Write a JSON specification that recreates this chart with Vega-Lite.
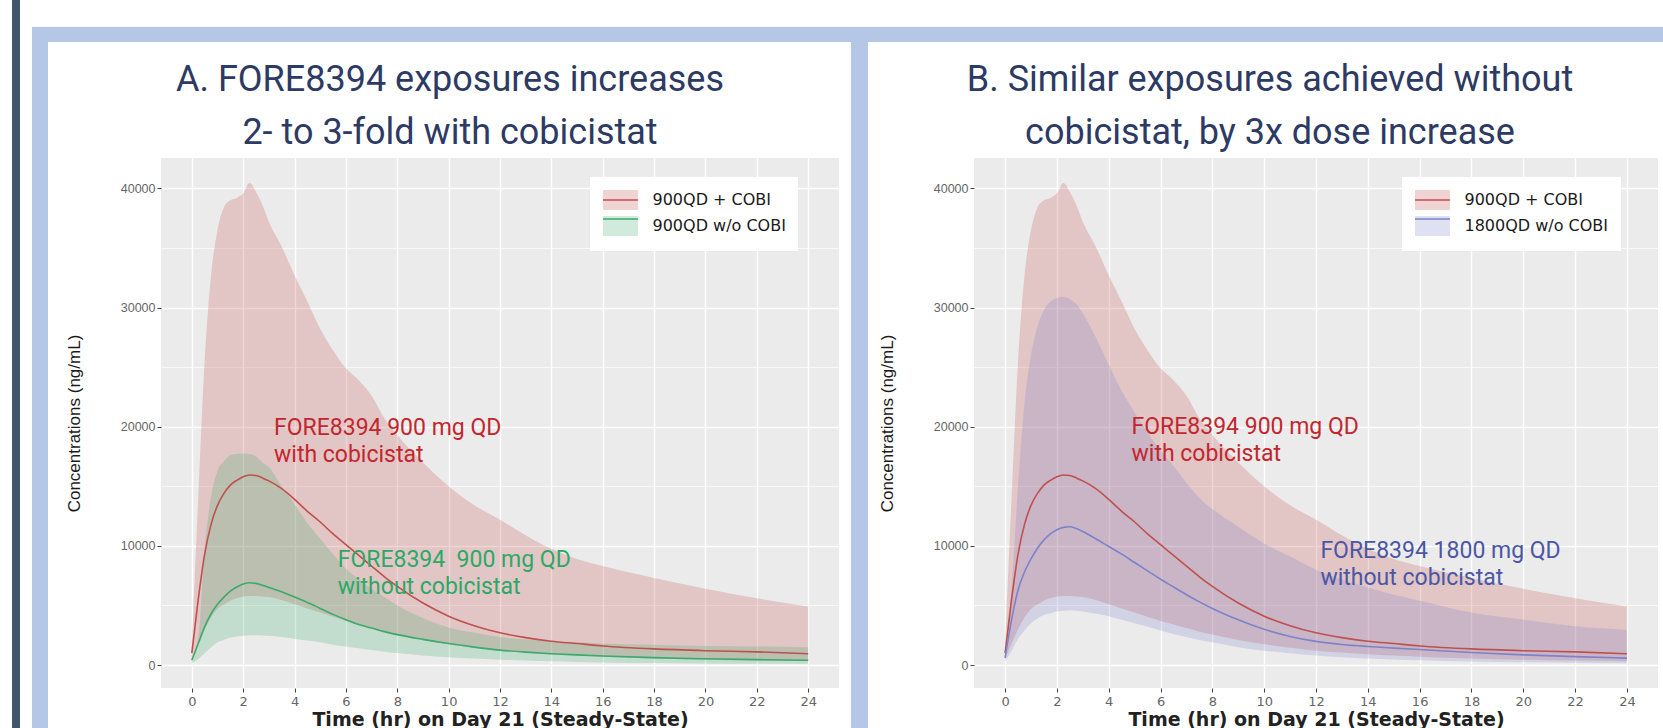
{
  "$schema": "https://vega.github.io/schema/vega-lite/v6.json",
  "autosize": {"type": "none"},
  "padding": {"left": 12, "top": 0, "right": 1651, "bottom": 728},
  "background": "white",
  "bounds": "flush",
  "align": "each",
  "columns": 10,
  "spacing": 0,
  "config": {
    "view": {"fill": "transparent", "stroke": null},
    "title": {"font": "Roboto", "fontSize": 36, "fontWeight": "normal", "color": "#2d3a64", "lineHeight": 53, "offset": 6, "anchor": "middle", "baseline": "bottom"},
    "axis": {"domain": false, "gridColor": "white", "labelOverlap": false, "labelFlush": false, "tickWidth": 1}
  },
  "datasets": {
    "blank": [{}],
    "pk": [
      {"s":"900QD + COBI","t":0,"lo":500,"med":1000,"hi":1800},
      {"s":"900QD + COBI","t":0.25,"lo":1800,"med":5500,"hi":14000},
      {"s":"900QD + COBI","t":0.5,"lo":3000,"med":9300,"hi":25500},
      {"s":"900QD + COBI","t":0.75,"lo":4000,"med":11800,"hi":32700},
      {"s":"900QD + COBI","t":1,"lo":4700,"med":13400,"hi":36500},
      {"s":"900QD + COBI","t":1.25,"lo":5100,"med":14400,"hi":38400},
      {"s":"900QD + COBI","t":1.5,"lo":5400,"med":15100,"hi":39000},
      {"s":"900QD + COBI","t":1.75,"lo":5600,"med":15500,"hi":39200},
      {"s":"900QD + COBI","t":2,"lo":5750,"med":15800,"hi":39600},
      {"s":"900QD + COBI","t":2.25,"lo":5800,"med":15950,"hi":40450},
      {"s":"900QD + COBI","t":2.5,"lo":5800,"med":15900,"hi":39700},
      {"s":"900QD + COBI","t":2.75,"lo":5750,"med":15700,"hi":38600},
      {"s":"900QD + COBI","t":3,"lo":5700,"med":15450,"hi":37200},
      {"s":"900QD + COBI","t":3.5,"lo":5450,"med":14800,"hi":35100},
      {"s":"900QD + COBI","t":4,"lo":5100,"med":13900,"hi":32700},
      {"s":"900QD + COBI","t":4.5,"lo":4750,"med":12900,"hi":30500},
      {"s":"900QD + COBI","t":5,"lo":4400,"med":12000,"hi":28200},
      {"s":"900QD + COBI","t":5.5,"lo":4050,"med":11000,"hi":26400},
      {"s":"900QD + COBI","t":6,"lo":3700,"med":10100,"hi":24900},
      {"s":"900QD + COBI","t":6.5,"lo":3400,"med":9200,"hi":23900},
      {"s":"900QD + COBI","t":7,"lo":3100,"med":8300,"hi":22600},
      {"s":"900QD + COBI","t":7.5,"lo":2800,"med":7400,"hi":20700},
      {"s":"900QD + COBI","t":8,"lo":2550,"med":6600,"hi":19300},
      {"s":"900QD + COBI","t":9,"lo":2100,"med":5200,"hi":17000},
      {"s":"900QD + COBI","t":10,"lo":1750,"med":4100,"hi":15000},
      {"s":"900QD + COBI","t":11,"lo":1450,"med":3300,"hi":13400},
      {"s":"900QD + COBI","t":12,"lo":1200,"med":2700,"hi":12200},
      {"s":"900QD + COBI","t":13,"lo":1050,"med":2300,"hi":10900},
      {"s":"900QD + COBI","t":14,"lo":900,"med":2000,"hi":9750},
      {"s":"900QD + COBI","t":15,"lo":800,"med":1800,"hi":8900},
      {"s":"900QD + COBI","t":16,"lo":700,"med":1600,"hi":8300},
      {"s":"900QD + COBI","t":18,"lo":550,"med":1350,"hi":7300},
      {"s":"900QD + COBI","t":20,"lo":450,"med":1200,"hi":6400},
      {"s":"900QD + COBI","t":22,"lo":380,"med":1100,"hi":5600},
      {"s":"900QD + COBI","t":24,"lo":320,"med":950,"hi":4900},
      {"s":"900QD w/o COBI","t":0,"lo":100,"med":400,"hi":600},
      {"s":"900QD w/o COBI","t":0.25,"lo":500,"med":1800,"hi":2200},
      {"s":"900QD w/o COBI","t":0.5,"lo":1000,"med":3200,"hi":9800},
      {"s":"900QD w/o COBI","t":0.75,"lo":1500,"med":4300,"hi":14100},
      {"s":"900QD w/o COBI","t":1,"lo":1900,"med":5100,"hi":16300},
      {"s":"900QD w/o COBI","t":1.25,"lo":2100,"med":5700,"hi":17100},
      {"s":"900QD w/o COBI","t":1.5,"lo":2300,"med":6200,"hi":17600},
      {"s":"900QD w/o COBI","t":1.75,"lo":2400,"med":6550,"hi":17700},
      {"s":"900QD w/o COBI","t":2,"lo":2450,"med":6800,"hi":17750},
      {"s":"900QD w/o COBI","t":2.25,"lo":2500,"med":6900,"hi":17700},
      {"s":"900QD w/o COBI","t":2.5,"lo":2500,"med":6850,"hi":17500},
      {"s":"900QD w/o COBI","t":2.75,"lo":2480,"med":6700,"hi":17000},
      {"s":"900QD w/o COBI","t":3,"lo":2450,"med":6500,"hi":16600},
      {"s":"900QD w/o COBI","t":3.5,"lo":2350,"med":6150,"hi":15000},
      {"s":"900QD w/o COBI","t":4,"lo":2200,"med":5700,"hi":13500},
      {"s":"900QD w/o COBI","t":4.5,"lo":2050,"med":5250,"hi":11900},
      {"s":"900QD w/o COBI","t":5,"lo":1900,"med":4750,"hi":10600},
      {"s":"900QD w/o COBI","t":5.5,"lo":1700,"med":4250,"hi":9300},
      {"s":"900QD w/o COBI","t":6,"lo":1550,"med":3800,"hi":8100},
      {"s":"900QD w/o COBI","t":6.5,"lo":1400,"med":3400,"hi":7200},
      {"s":"900QD w/o COBI","t":7,"lo":1250,"med":3100,"hi":6400},
      {"s":"900QD w/o COBI","t":7.5,"lo":1120,"med":2800,"hi":5700},
      {"s":"900QD w/o COBI","t":8,"lo":1000,"med":2550,"hi":5000},
      {"s":"900QD w/o COBI","t":9,"lo":800,"med":2150,"hi":3950},
      {"s":"900QD w/o COBI","t":10,"lo":650,"med":1800,"hi":3150},
      {"s":"900QD w/o COBI","t":11,"lo":540,"med":1500,"hi":2700},
      {"s":"900QD w/o COBI","t":12,"lo":450,"med":1250,"hi":2350},
      {"s":"900QD w/o COBI","t":13,"lo":370,"med":1080,"hi":2150},
      {"s":"900QD w/o COBI","t":14,"lo":310,"med":950,"hi":2000},
      {"s":"900QD w/o COBI","t":15,"lo":260,"med":850,"hi":1900},
      {"s":"900QD w/o COBI","t":16,"lo":220,"med":760,"hi":1800},
      {"s":"900QD w/o COBI","t":18,"lo":160,"med":620,"hi":1700},
      {"s":"900QD w/o COBI","t":20,"lo":130,"med":520,"hi":1600},
      {"s":"900QD w/o COBI","t":22,"lo":110,"med":450,"hi":1550},
      {"s":"900QD w/o COBI","t":24,"lo":92,"med":400,"hi":1500},
      {"s":"1800QD w/o COBI","t":0,"lo":300,"med":600,"hi":1000},
      {"s":"1800QD w/o COBI","t":0.25,"lo":1200,"med":3800,"hi":6500},
      {"s":"1800QD w/o COBI","t":0.5,"lo":2200,"med":6300,"hi":15000},
      {"s":"1800QD w/o COBI","t":0.75,"lo":2900,"med":7800,"hi":22000},
      {"s":"1800QD w/o COBI","t":1,"lo":3500,"med":8900,"hi":26000},
      {"s":"1800QD w/o COBI","t":1.25,"lo":3900,"med":9800,"hi":28400},
      {"s":"1800QD w/o COBI","t":1.5,"lo":4200,"med":10500,"hi":29800},
      {"s":"1800QD w/o COBI","t":1.75,"lo":4350,"med":11000,"hi":30500},
      {"s":"1800QD w/o COBI","t":2,"lo":4500,"med":11350,"hi":30800},
      {"s":"1800QD w/o COBI","t":2.25,"lo":4550,"med":11550,"hi":30900},
      {"s":"1800QD w/o COBI","t":2.5,"lo":4600,"med":11600,"hi":30700},
      {"s":"1800QD w/o COBI","t":2.75,"lo":4550,"med":11450,"hi":30300},
      {"s":"1800QD w/o COBI","t":3,"lo":4500,"med":11200,"hi":29500},
      {"s":"1800QD w/o COBI","t":3.5,"lo":4300,"med":10600,"hi":27500},
      {"s":"1800QD w/o COBI","t":4,"lo":4100,"med":9950,"hi":25200},
      {"s":"1800QD w/o COBI","t":4.5,"lo":3800,"med":9300,"hi":23000},
      {"s":"1800QD w/o COBI","t":5,"lo":3500,"med":8600,"hi":21200},
      {"s":"1800QD w/o COBI","t":5.5,"lo":3200,"med":7900,"hi":19500},
      {"s":"1800QD w/o COBI","t":6,"lo":2900,"med":7200,"hi":18000},
      {"s":"1800QD w/o COBI","t":6.5,"lo":2600,"med":6550,"hi":16700},
      {"s":"1800QD w/o COBI","t":7,"lo":2350,"med":5900,"hi":15300},
      {"s":"1800QD w/o COBI","t":7.5,"lo":2100,"med":5300,"hi":14000},
      {"s":"1800QD w/o COBI","t":8,"lo":1900,"med":4750,"hi":13100},
      {"s":"1800QD w/o COBI","t":9,"lo":1500,"med":3800,"hi":11600},
      {"s":"1800QD w/o COBI","t":10,"lo":1200,"med":3000,"hi":10200},
      {"s":"1800QD w/o COBI","t":11,"lo":980,"med":2400,"hi":9100},
      {"s":"1800QD w/o COBI","t":12,"lo":800,"med":1980,"hi":8000},
      {"s":"1800QD w/o COBI","t":13,"lo":660,"med":1720,"hi":7200},
      {"s":"1800QD w/o COBI","t":14,"lo":550,"med":1550,"hi":6500},
      {"s":"1800QD w/o COBI","t":15,"lo":470,"med":1420,"hi":5900},
      {"s":"1800QD w/o COBI","t":16,"lo":400,"med":1300,"hi":5400},
      {"s":"1800QD w/o COBI","t":18,"lo":300,"med":1050,"hi":4400},
      {"s":"1800QD w/o COBI","t":20,"lo":230,"med":850,"hi":3800},
      {"s":"1800QD w/o COBI","t":22,"lo":180,"med":700,"hi":3250},
      {"s":"1800QD w/o COBI","t":24,"lo":150,"med":580,"hi":2950}
    ],
    "notes": [
      {"panel":"A","s":"900QD + COBI","t":3.2,"c":19300,"label":"FORE8394 900 mg QD\nwith cobicistat"},
      {"panel":"A","s":"900QD w/o COBI","t":5.68,"c":8200,"label":"FORE8394\u00a0 900 mg QD\nwithout cobicistat"},
      {"panel":"B","s":"900QD + COBI","t":4.88,"c":19380,"label":"FORE8394 900 mg QD\nwith cobicistat"},
      {"panel":"B","s":"1800QD w/o COBI","t":12.17,"c":8950,"label":"FORE8394 1800 mg QD\nwithout cobicistat"}
    ]
  },
  "resolve": {
    "scale": {"fill": "independent", "stroke": "independent", "color": "independent"},
    "legend": {"fill": "independent", "stroke": "independent", "color": "independent"}
  },
  "concat": [
    {"width": 8, "height": 27, "view": {"fill": "#44546a"}, "data": {"name": "blank"}, "mark": {"type": "point", "opacity": 0}},
    {"width": 12, "height": 27, "data": {"name": "blank"}, "mark": {"type": "point", "opacity": 0}},
    {"width": 16, "height": 27, "data": {"name": "blank"}, "mark": {"type": "point", "opacity": 0}},
    {"width": 113, "height": 27, "data": {"name": "blank"}, "mark": {"type": "point", "opacity": 0}},
    {"width": 678, "height": 27, "data": {"name": "blank"}, "mark": {"type": "point", "opacity": 0}},
    {"width": 12, "height": 27, "data": {"name": "blank"}, "mark": {"type": "point", "opacity": 0}},
    {"width": 17, "height": 27, "data": {"name": "blank"}, "mark": {"type": "point", "opacity": 0}},
    {"width": 106, "height": 27, "data": {"name": "blank"}, "mark": {"type": "point", "opacity": 0}},
    {"width": 684, "height": 27, "data": {"name": "blank"}, "mark": {"type": "point", "opacity": 0}},
    {"width": 5, "height": 27, "data": {"name": "blank"}, "mark": {"type": "point", "opacity": 0}},

    {"width": 8, "height": 15, "view": {"fill": "#44546a"}, "data": {"name": "blank"}, "mark": {"type": "point", "opacity": 0}},
    {"width": 12, "height": 15, "data": {"name": "blank"}, "mark": {"type": "point", "opacity": 0}},
    {"width": 16, "height": 15, "view": {"fill": "#b4c7e7"}, "data": {"name": "blank"}, "mark": {"type": "point", "opacity": 0}},
    {"width": 113, "height": 15, "view": {"fill": "#b4c7e7"}, "data": {"name": "blank"}, "mark": {"type": "point", "opacity": 0}},
    {"width": 678, "height": 15, "view": {"fill": "#b4c7e7"}, "data": {"name": "blank"}, "mark": {"type": "point", "opacity": 0}},
    {"width": 12, "height": 15, "view": {"fill": "#b4c7e7"}, "data": {"name": "blank"}, "mark": {"type": "point", "opacity": 0}},
    {"width": 17, "height": 15, "view": {"fill": "#b4c7e7"}, "data": {"name": "blank"}, "mark": {"type": "point", "opacity": 0}},
    {"width": 106, "height": 15, "view": {"fill": "#b4c7e7"}, "data": {"name": "blank"}, "mark": {"type": "point", "opacity": 0}},
    {"width": 684, "height": 15, "view": {"fill": "#b4c7e7"}, "data": {"name": "blank"}, "mark": {"type": "point", "opacity": 0}},
    {"width": 5, "height": 15, "view": {"fill": "#b4c7e7"}, "data": {"name": "blank"}, "mark": {"type": "point", "opacity": 0}},

    {"width": 8, "height": 116, "view": {"fill": "#44546a"}, "data": {"name": "blank"}, "mark": {"type": "point", "opacity": 0}},
    {"width": 12, "height": 116, "data": {"name": "blank"}, "mark": {"type": "point", "opacity": 0}},
    {"width": 16, "height": 116, "view": {"fill": "#b4c7e7"}, "data": {"name": "blank"}, "mark": {"type": "point", "opacity": 0}},
    {"width": 113, "height": 116, "data": {"name": "blank"}, "mark": {"type": "point", "opacity": 0}},
    {"width": 678, "height": 116, "data": {"name": "blank"}, "mark": {"type": "point", "opacity": 0}},
    {"width": 12, "height": 116, "data": {"name": "blank"}, "mark": {"type": "point", "opacity": 0}},
    {"width": 17, "height": 116, "view": {"fill": "#b4c7e7"}, "data": {"name": "blank"}, "mark": {"type": "point", "opacity": 0}},
    {"width": 106, "height": 116, "data": {"name": "blank"}, "mark": {"type": "point", "opacity": 0}},
    {"width": 684, "height": 116, "data": {"name": "blank"}, "mark": {"type": "point", "opacity": 0}},
    {"width": 5, "height": 116, "data": {"name": "blank"}, "mark": {"type": "point", "opacity": 0}},

    {"width": 8, "height": 570, "view": {"fill": "#44546a"}, "data": {"name": "blank"}, "mark": {"type": "point", "opacity": 0}},
    {"width": 12, "height": 570, "data": {"name": "blank"}, "mark": {"type": "point", "opacity": 0}},
    {"width": 16, "height": 570, "view": {"fill": "#b4c7e7"}, "data": {"name": "blank"}, "mark": {"type": "point", "opacity": 0}},
    {"width": 113, "height": 570, "data": {"name": "blank"}, "mark": {"type": "point", "opacity": 0}},
    {
      "width": 678,
      "height": 530,
      "view": {"fill": "#ebebeb"},
      "title": {"text": ["A. FORE8394 exposures increases", "2- to 3-fold with cobicistat"], "dx": -50},
      "resolve": {"axis": {"x": "independent"}},
      "layer": [
        {
          "data": {"name": "pk"},
          "transform": [{"filter": {"field": "s", "oneOf": ["900QD + COBI", "900QD w/o COBI"]}}],
          "mark": {"type": "area", "opacity": 0.24, "interpolate": "monotone"},
          "encoding": {
            "x": {"field": "t", "type": "quantitative", "scale": {"domain": [-1.2, 25.2], "nice": false, "zero": false},
              "axis": {"values": [0,2,4,6,8,10,12,14,16,18,20,22,24], "orient": "bottom",
                "gridWidth": 1.4, "tickColor": "#444444", "tickSize": 4, "labelPadding": 3,
                "labelFont": "DejaVu Sans", "labelFontSize": 13, "labelColor": "#666666",
                "title": "Time (hr) on Day 21 (Steady-State)", "titleFont": "DejaVu Sans", "titleFontSize": 19, "titleFontWeight": "bold", "titleColor": "#222222", "titlePadding": 2}},
            "y": {"field": "lo", "type": "quantitative", "scale": {"domain": [-1930, 42550], "nice": false, "zero": false},
              "axis": {"values": [0,5000,10000,15000,20000,25000,30000,35000,40000], "format": "d",
                "labelExpr": "datum.value % 10000 === 0 ? datum.label : ''",
                "gridWidth": {"condition": {"test": "datum.value % 10000 === 0", "value": 1.4}, "value": 0.7},
                "tickColor": {"condition": {"test": "datum.value % 10000 === 0", "value": "#444444"}, "value": "transparent"},
                "tickSize": 4, "labelPadding": 2,
                "labelFont": "Liberation Sans", "labelFontSize": 12.5, "labelColor": "#666666",
                "title": "Concentrations (ng/mL)", "titleFont": "Liberation Sans", "titleFontSize": 17, "titleFontWeight": "normal", "titleColor": "#1a1a1a", "titlePadding": 37}},
            "y2": {"field": "hi"},
            "fill": {"field": "s", "type": "nominal",
              "scale": {"domain": ["900QD + COBI", "900QD w/o COBI"], "range": ["#c0504d", "#3daa6b"]},
              "legend": {"orient": "none", "legendX": 429, "legendY": 19, "title": null, "fillColor": "white", "padding": 12,
                "symbolType": "M-1.75,-1H1.75V1H-1.75Z", "symbolSize": 400, "symbolStrokeWidth": 1.5, "symbolStrokeColor": "transparent", "symbolOffset": 7.5,
                "labelFont": "DejaVu Sans", "labelFontSize": 16, "labelColor": "#1a1a1a", "labelOffset": 21, "rowPadding": 0}}
          }
        },
        {
          "data": {"name": "pk"},
          "transform": [{"filter": {"field": "s", "oneOf": ["900QD + COBI", "900QD w/o COBI"]}}],
          "mark": {"type": "line", "strokeWidth": 1.6, "interpolate": "monotone"},
          "encoding": {
            "x": {"field": "t", "type": "quantitative",
              "axis": {"values": [-1,1,3,5,7,9,11,13,15,17,19,21,23,25], "orient": "bottom", "gridWidth": 0.7, "ticks": false, "labels": false, "title": null}},
            "y": {"field": "med", "type": "quantitative"},
            "stroke": {"field": "s", "type": "nominal",
              "scale": {"domain": ["900QD + COBI", "900QD w/o COBI", "-"], "range": ["#c0504d", "#3daa6b", "transparent"]},
              "legend": {"orient": "none", "legendX": 429, "legendY": 19, "title": null, "padding": 12,
                "symbolType": "M-1.75,0H1.75", "symbolSize": 400, "symbolStrokeWidth": 1.5, "symbolOffset": 7.5,
                "labelFont": "DejaVu Sans", "labelFontSize": 16, "labelOpacity": 0, "labelOffset": 21, "rowPadding": 0}}
          }
        },
        {
          "data": {"name": "notes"},
          "transform": [{"filter": {"field": "panel", "equal": "A"}}],
          "mark": {"type": "text", "align": "left", "baseline": "alphabetic", "lineBreak": "\n", "lineHeight": 27, "font": "Roboto", "fontSize": 23},
          "encoding": {
            "x": {"field": "t", "type": "quantitative", "axis": null},
            "y": {"field": "c", "type": "quantitative"},
            "text": {"field": "label"},
            "color": {"field": "s", "type": "nominal",
              "scale": {"domain": ["900QD + COBI", "900QD w/o COBI", "1800QD w/o COBI"], "range": ["#c3262e", "#2ea866", "#4b56a5"]},
              "legend": null}
          }
        }
      ]
    },
    {"width": 12, "height": 570, "data": {"name": "blank"}, "mark": {"type": "point", "opacity": 0}},
    {"width": 17, "height": 570, "view": {"fill": "#b4c7e7"}, "data": {"name": "blank"}, "mark": {"type": "point", "opacity": 0}},
    {"width": 106, "height": 570, "data": {"name": "blank"}, "mark": {"type": "point", "opacity": 0}},
    {
      "width": 684,
      "height": 530,
      "view": {"fill": "#ebebeb"},
      "title": {"text": ["B. Similar exposures achieved without", "cobicistat, by 3x dose increase"], "dx": -46},
      "resolve": {"axis": {"x": "independent"}},
      "layer": [
        {
          "data": {"name": "pk"},
          "transform": [{"filter": {"field": "s", "oneOf": ["900QD + COBI", "1800QD w/o COBI"]}}],
          "mark": {"type": "area", "opacity": 0.24, "interpolate": "monotone"},
          "encoding": {
            "x": {"field": "t", "type": "quantitative", "scale": {"domain": [-1.2, 25.2], "nice": false, "zero": false},
              "axis": {"values": [0,2,4,6,8,10,12,14,16,18,20,22,24], "orient": "bottom",
                "gridWidth": 1.4, "tickColor": "#444444", "tickSize": 4, "labelPadding": 3,
                "labelFont": "DejaVu Sans", "labelFontSize": 13, "labelColor": "#666666",
                "title": "Time (hr) on Day 21 (Steady-State)", "titleFont": "DejaVu Sans", "titleFontSize": 19, "titleFontWeight": "bold", "titleColor": "#222222", "titlePadding": 2}},
            "y": {"field": "lo", "type": "quantitative", "scale": {"domain": [-1930, 42550], "nice": false, "zero": false},
              "axis": {"values": [0,5000,10000,15000,20000,25000,30000,35000,40000], "format": "d",
                "labelExpr": "datum.value % 10000 === 0 ? datum.label : ''",
                "gridWidth": {"condition": {"test": "datum.value % 10000 === 0", "value": 1.4}, "value": 0.7},
                "tickColor": {"condition": {"test": "datum.value % 10000 === 0", "value": "#444444"}, "value": "transparent"},
                "tickSize": 4, "labelPadding": 2,
                "labelFont": "Liberation Sans", "labelFontSize": 12.5, "labelColor": "#666666",
                "title": "Concentrations (ng/mL)", "titleFont": "Liberation Sans", "titleFontSize": 17, "titleFontWeight": "normal", "titleColor": "#1a1a1a", "titlePadding": 37}},
            "y2": {"field": "hi"},
            "fill": {"field": "s", "type": "nominal",
              "scale": {"domain": ["900QD + COBI", "1800QD w/o COBI"], "range": ["#c0504d", "#7c83c9"]},
              "legend": {"orient": "none", "legendX": 428, "legendY": 19, "title": null, "fillColor": "white", "padding": 12,
                "symbolType": "M-1.75,-1H1.75V1H-1.75Z", "symbolSize": 400, "symbolStrokeWidth": 1.5, "symbolStrokeColor": "transparent", "symbolOffset": 7.5,
                "labelFont": "DejaVu Sans", "labelFontSize": 16, "labelColor": "#1a1a1a", "labelOffset": 21, "rowPadding": 0}}
          }
        },
        {
          "data": {"name": "pk"},
          "transform": [{"filter": {"field": "s", "oneOf": ["900QD + COBI", "1800QD w/o COBI"]}}],
          "mark": {"type": "line", "strokeWidth": 1.6, "interpolate": "monotone"},
          "encoding": {
            "x": {"field": "t", "type": "quantitative",
              "axis": {"values": [-1,1,3,5,7,9,11,13,15,17,19,21,23,25], "orient": "bottom", "gridWidth": 0.7, "ticks": false, "labels": false, "title": null}},
            "y": {"field": "med", "type": "quantitative"},
            "stroke": {"field": "s", "type": "nominal",
              "scale": {"domain": ["900QD + COBI", "1800QD w/o COBI", "-"], "range": ["#c0504d", "#7c83c9", "transparent"]},
              "legend": {"orient": "none", "legendX": 428, "legendY": 19, "title": null, "padding": 12,
                "symbolType": "M-1.75,0H1.75", "symbolSize": 400, "symbolStrokeWidth": 1.5, "symbolOffset": 7.5,
                "labelFont": "DejaVu Sans", "labelFontSize": 16, "labelOpacity": 0, "labelOffset": 21, "rowPadding": 0}}
          }
        },
        {
          "data": {"name": "notes"},
          "transform": [{"filter": {"field": "panel", "equal": "B"}}],
          "mark": {"type": "text", "align": "left", "baseline": "alphabetic", "lineBreak": "\n", "lineHeight": 27, "font": "Roboto", "fontSize": 23},
          "encoding": {
            "x": {"field": "t", "type": "quantitative", "axis": null},
            "y": {"field": "c", "type": "quantitative"},
            "text": {"field": "label"},
            "color": {"field": "s", "type": "nominal",
              "scale": {"domain": ["900QD + COBI", "900QD w/o COBI", "1800QD w/o COBI"], "range": ["#c3262e", "#2ea866", "#4b56a5"]},
              "legend": null}
          }
        }
      ]
    },
    {"width": 5, "height": 570, "data": {"name": "blank"}, "mark": {"type": "point", "opacity": 0}}
  ]
}
